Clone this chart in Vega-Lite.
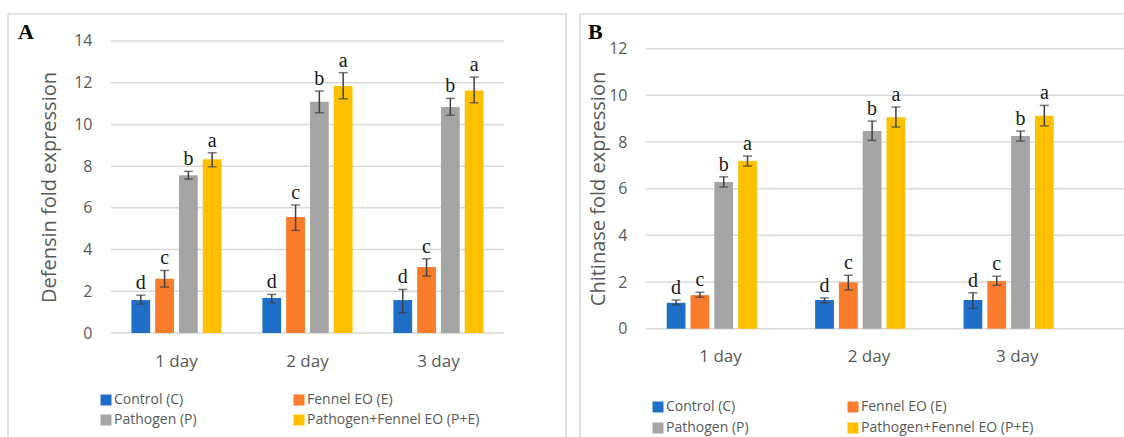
{
  "$schema": "https://vega.github.io/schema/vega-lite/v6.json",
  "padding": {"left": 7, "top": 13, "right": 0, "bottom": 0},
  "background": "white",
  "spacing": 12,
  "resolve": {"scale": {"color": "independent"}},
  "config": {
    "view": {"stroke": "#d9d9d9", "strokeWidth": 1.5},
    "axis": {"domain": false, "ticks": false, "grid": false, "labelFont": "Open Sans", "labelColor": "#595959", "titleFont": "Open Sans", "titleColor": "#595959", "titleFontWeight": "normal"},
    "axisX": {"labelFontSize": 17, "labelPadding": 20, "labelAngle": 0},
    "axisY": {"labelFontSize": 16, "labelPadding": 19, "titleFontSize": 20}
  },
  "datasets": {
    "defensin": [
      {"day": "1 day", "group": "Control (C)", "mean": 1.58, "lo": 1.38, "hi": 1.81, "letter": "d"},
      {"day": "1 day", "group": "Fennel EO (E)", "mean": 2.60, "lo": 2.20, "hi": 3.00, "letter": "c"},
      {"day": "1 day", "group": "Pathogen (P)", "mean": 7.56, "lo": 7.38, "hi": 7.75, "letter": "b"},
      {"day": "1 day", "group": "Pathogen+Fennel EO (P+E)", "mean": 8.33, "lo": 7.97, "hi": 8.64, "letter": "a"},
      {"day": "2 day", "group": "Control (C)", "mean": 1.68, "lo": 1.45, "hi": 1.85, "letter": "d"},
      {"day": "2 day", "group": "Fennel EO (E)", "mean": 5.56, "lo": 4.92, "hi": 6.14, "letter": "c"},
      {"day": "2 day", "group": "Pathogen (P)", "mean": 11.09, "lo": 10.56, "hi": 11.60, "letter": "b"},
      {"day": "2 day", "group": "Pathogen+Fennel EO (P+E)", "mean": 11.84, "lo": 11.23, "hi": 12.48, "letter": "a"},
      {"day": "3 day", "group": "Control (C)", "mean": 1.58, "lo": 0.97, "hi": 2.09, "letter": "d"},
      {"day": "3 day", "group": "Fennel EO (E)", "mean": 3.16, "lo": 2.73, "hi": 3.56, "letter": "c"},
      {"day": "3 day", "group": "Pathogen (P)", "mean": 10.83, "lo": 10.44, "hi": 11.25, "letter": "b"},
      {"day": "3 day", "group": "Pathogen+Fennel EO (P+E)", "mean": 11.63, "lo": 11.04, "hi": 12.27, "letter": "a"}
    ],
    "chitinase": [
      {"day": "1 day", "group": "Control (C)", "mean": 1.11, "lo": 1.02, "hi": 1.23, "letter": "d"},
      {"day": "1 day", "group": "Fennel EO (E)", "mean": 1.44, "lo": 1.35, "hi": 1.56, "letter": "c"},
      {"day": "1 day", "group": "Pathogen (P)", "mean": 6.29, "lo": 6.07, "hi": 6.51, "letter": "b"},
      {"day": "1 day", "group": "Pathogen+Fennel EO (P+E)", "mean": 7.19, "lo": 6.97, "hi": 7.40, "letter": "a"},
      {"day": "2 day", "group": "Control (C)", "mean": 1.23, "lo": 1.11, "hi": 1.32, "letter": "d"},
      {"day": "2 day", "group": "Fennel EO (E)", "mean": 1.99, "lo": 1.66, "hi": 2.29, "letter": "c"},
      {"day": "2 day", "group": "Pathogen (P)", "mean": 8.47, "lo": 8.07, "hi": 8.90, "letter": "b"},
      {"day": "2 day", "group": "Pathogen+Fennel EO (P+E)", "mean": 9.06, "lo": 8.64, "hi": 9.50, "letter": "a"},
      {"day": "3 day", "group": "Control (C)", "mean": 1.23, "lo": 0.87, "hi": 1.54, "letter": "d"},
      {"day": "3 day", "group": "Fennel EO (E)", "mean": 2.04, "lo": 1.86, "hi": 2.25, "letter": "c"},
      {"day": "3 day", "group": "Pathogen (P)", "mean": 8.26, "lo": 8.04, "hi": 8.47, "letter": "b"},
      {"day": "3 day", "group": "Pathogen+Fennel EO (P+E)", "mean": 9.13, "lo": 8.69, "hi": 9.57, "letter": "a"}
    ],
    "gridA": [
      {"v": 0, "from": "1 day", "to": "3 day"},
      {"v": 2, "from": "1 day", "to": "3 day"},
      {"v": 4, "from": "1 day", "to": "3 day"},
      {"v": 6, "from": "1 day", "to": "3 day"},
      {"v": 8, "from": "1 day", "to": "3 day"},
      {"v": 10, "from": "1 day", "to": "3 day"},
      {"v": 12, "from": "1 day", "to": "3 day"},
      {"v": 14, "from": "1 day", "to": "3 day"}
    ],
    "gridB": [
      {"v": 0, "from": "1 day", "to": "3 day"},
      {"v": 2, "from": "1 day", "to": "3 day"},
      {"v": 4, "from": "1 day", "to": "3 day"},
      {"v": 6, "from": "1 day", "to": "3 day"},
      {"v": 8, "from": "1 day", "to": "3 day"},
      {"v": 10, "from": "1 day", "to": "3 day"},
      {"v": 12, "from": "1 day", "to": "3 day"}
    ]
  },
  "hconcat": [
    {
      "width": 558,
      "height": 424,
      "title": {"text": "A", "orient": "none", "anchor": "start", "frame": "group", "font": "Liberation Serif", "fontSize": 22, "fontWeight": "bold", "color": "#000000", "baseline": "alphabetic", "align": "left", "offset": 0, "dx": 10, "dy": 25},
      "layer": [
        {
          "data": {"name": "gridA"},
          "mark": {"type": "rule", "color": "#d9d9d9", "strokeWidth": 1.5},
          "encoding": {
            "x": {"field": "from", "type": "nominal", "bandPosition": 0},
            "x2": {"field": "to", "bandPosition": 1},
            "y": {"field": "v", "type": "quantitative"}
          }
        },
        {
          "data": {"name": "defensin"},
          "mark": {"type": "bar"},
          "encoding": {
            "x": {"field": "day", "type": "nominal", "sort": ["1 day", "2 day", "3 day"],
              "scale": {"paddingInner": 0, "paddingOuter": 0.63, "align": 0.624},
              "axis": {"orient": "bottom", "offset": -105, "title": null}},
            "xOffset": {"field": "group", "type": "nominal", "sort": ["Control (C)", "Fennel EO (E)", "Pathogen (P)", "Pathogen+Fennel EO (P+E)"], "scale": {"paddingInner": 0.21, "paddingOuter": 0.857}},
            "y": {"field": "mean", "type": "quantitative",
              "scale": {"domain": [-5.034, 15.2945], "nice": false, "zero": false},
              "axis": {"orient": "left", "offset": -103, "values": [0, 2, 4, 6, 8, 10, 12, 14], "title": "Defensin fold expression", "titleX": -62, "titleY": 173, "titleBaseline": "middle", "titleAngle": -90, "titleAlign": "center"}},
            "y2": {"datum": 0},
            "color": {"field": "group", "type": "nominal",
              "scale": {"domain": ["Control (C)", "Fennel EO (E)", "Pathogen (P)", "Pathogen+Fennel EO (P+E)"], "range": ["#1F6FC8", "#F97B2C", "#A5A5A5", "#FFC000"]},
              "legend": {"orient": "none", "direction": "horizontal", "legendX": 91, "legendY": 379, "columns": 2, "symbolType": "square", "symbolSize": 121, "symbolStrokeWidth": 0, "labelFont": "Open Sans", "labelFontSize": 14, "labelColor": "#595959", "labelLimit": 400, "title": null, "columnPadding": 95, "rowPadding": 6, "labelOffset": 1, "padding": 0}}
          }
        },
        {
          "data": {"name": "defensin"},
          "mark": {"type": "rule", "color": "#404040", "strokeWidth": 1.5},
          "encoding": {
            "x": {"field": "day", "type": "nominal"},
            "xOffset": {"field": "group", "type": "nominal"},
            "y": {"field": "lo", "type": "quantitative"},
            "y2": {"field": "hi"}
          }
        },
        {
          "data": {"name": "defensin"},
          "mark": {"type": "tick", "color": "#404040", "thickness": 1.5, "size": 9, "orient": "horizontal"},
          "encoding": {
            "x": {"field": "day", "type": "nominal"},
            "xOffset": {"field": "group", "type": "nominal"},
            "y": {"field": "lo", "type": "quantitative"}
          }
        },
        {
          "data": {"name": "defensin"},
          "mark": {"type": "tick", "color": "#404040", "thickness": 1.5, "size": 9, "orient": "horizontal"},
          "encoding": {
            "x": {"field": "day", "type": "nominal"},
            "xOffset": {"field": "group", "type": "nominal"},
            "y": {"field": "hi", "type": "quantitative"}
          }
        },
        {
          "data": {"name": "defensin"},
          "mark": {"type": "text", "font": "Liberation Serif", "fontSize": 20, "color": "#1a1a1a", "baseline": "alphabetic", "dy": -6},
          "encoding": {
            "x": {"field": "day", "type": "nominal"},
            "xOffset": {"field": "group", "type": "nominal"},
            "y": {"field": "hi", "type": "quantitative"},
            "text": {"field": "letter"}
          }
        }
      ]
    },
    {
      "width": 546,
      "height": 424,
      "title": {"text": "B", "orient": "none", "anchor": "start", "frame": "group", "font": "Liberation Serif", "fontSize": 22, "fontWeight": "bold", "color": "#000000", "baseline": "alphabetic", "align": "left", "offset": 0, "dx": 8, "dy": 25},
      "layer": [
        {
          "data": {"name": "gridB"},
          "mark": {"type": "rule", "color": "#d9d9d9", "strokeWidth": 1.5},
          "encoding": {
            "x": {"field": "from", "type": "nominal", "bandPosition": 0},
            "x2": {"field": "to", "bandPosition": 1.23},
            "y": {"field": "v", "type": "quantitative"}
          }
        },
        {
          "data": {"name": "chitinase"},
          "mark": {"type": "bar"},
          "encoding": {
            "x": {"field": "day", "type": "nominal", "sort": ["1 day", "2 day", "3 day"],
              "scale": {"paddingInner": 0, "paddingOuter": 0.3396, "align": 0.658},
              "axis": {"orient": "bottom", "offset": -109.3, "title": null}},
            "xOffset": {"field": "group", "type": "nominal", "sort": ["Control (C)", "Fennel EO (E)", "Pathogen (P)", "Pathogen+Fennel EO (P+E)"], "scale": {"paddingInner": 0.21, "paddingOuter": 0.857}},
            "y": {"field": "mean", "type": "quantitative",
              "scale": {"domain": [-4.684, 13.487], "nice": false, "zero": false},
              "axis": {"orient": "left", "offset": -67, "values": [0, 2, 4, 6, 8, 10, 12], "labelPadding": 20, "title": "Chitinase fold expression", "titleX": -49, "titleY": 174.5, "titleBaseline": "middle", "titleAngle": -90, "titleAlign": "center"}},
            "y2": {"datum": 0},
            "color": {"field": "group", "type": "nominal",
              "scale": {"domain": ["Control (C)", "Fennel EO (E)", "Pathogen (P)", "Pathogen+Fennel EO (P+E)"], "range": ["#1F6FC8", "#F97B2C", "#A5A5A5", "#FFC000"]},
              "legend": {"orient": "none", "direction": "horizontal", "legendX": 71, "legendY": 386, "columns": 2, "symbolType": "square", "symbolSize": 121, "symbolStrokeWidth": 0, "labelFont": "Open Sans", "labelFontSize": 14, "labelColor": "#595959", "labelLimit": 400, "title": null, "columnPadding": 97, "rowPadding": 7, "labelOffset": 1, "padding": 0}}
          }
        },
        {
          "data": {"name": "chitinase"},
          "mark": {"type": "rule", "color": "#404040", "strokeWidth": 1.5},
          "encoding": {
            "x": {"field": "day", "type": "nominal"},
            "xOffset": {"field": "group", "type": "nominal"},
            "y": {"field": "lo", "type": "quantitative"},
            "y2": {"field": "hi"}
          }
        },
        {
          "data": {"name": "chitinase"},
          "mark": {"type": "tick", "color": "#404040", "thickness": 1.5, "size": 9, "orient": "horizontal"},
          "encoding": {
            "x": {"field": "day", "type": "nominal"},
            "xOffset": {"field": "group", "type": "nominal"},
            "y": {"field": "lo", "type": "quantitative"}
          }
        },
        {
          "data": {"name": "chitinase"},
          "mark": {"type": "tick", "color": "#404040", "thickness": 1.5, "size": 9, "orient": "horizontal"},
          "encoding": {
            "x": {"field": "day", "type": "nominal"},
            "xOffset": {"field": "group", "type": "nominal"},
            "y": {"field": "hi", "type": "quantitative"}
          }
        },
        {
          "data": {"name": "chitinase"},
          "mark": {"type": "text", "font": "Liberation Serif", "fontSize": 20, "color": "#1a1a1a", "baseline": "alphabetic", "dy": -6},
          "encoding": {
            "x": {"field": "day", "type": "nominal"},
            "xOffset": {"field": "group", "type": "nominal"},
            "y": {"field": "hi", "type": "quantitative"},
            "text": {"field": "letter"}
          }
        }
      ]
    }
  ]
}
